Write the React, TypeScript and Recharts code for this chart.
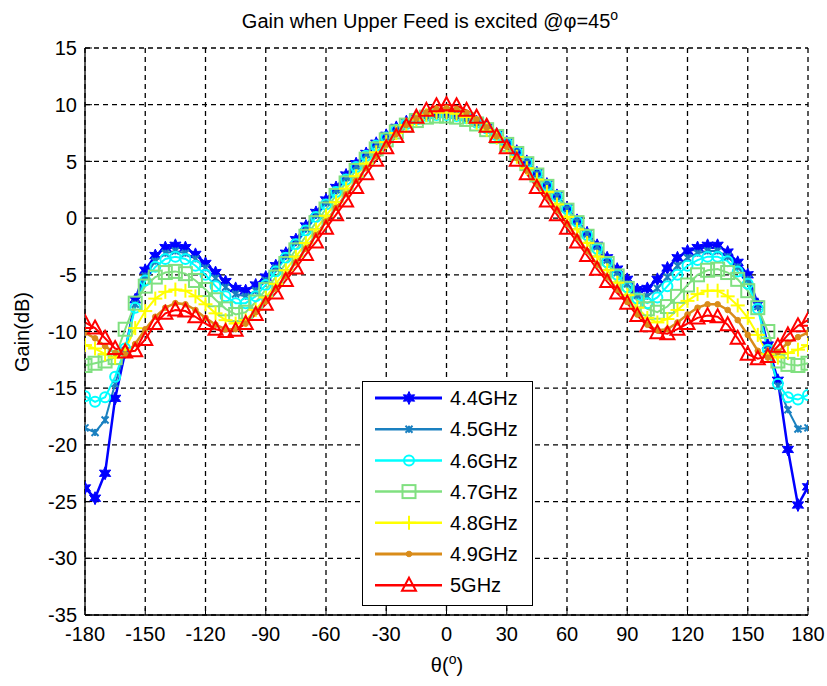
import React from 'react';
import { LineChart, Line, XAxis, YAxis, CartesianGrid, Legend } from 'recharts';

// Angles (deg)
const theta = [
  -180, -175, -170, -165, -160, -155, -150, -145, -140, -135, -130, -125, -120, -115, -110, -105, -100, -95,
  -90, -85, -80, -75, -70, -65, -60, -55, -50, -45, -40, -35, -30, -25, -20, -15, -10, -5,
  0, 5, 10, 15, 20, 25, 30, 35, 40, 45, 50, 55, 60, 65, 70, 75, 80, 85,
  90, 95, 100, 105, 110, 115, 120, 125, 130, 135, 140, 145, 150, 155, 160, 165, 170, 175, 180,
];

const gain44 = [
  -23.8, -24.7, -22.5, -15.9, -11.8, -7.2, -4.6, -3.3, -2.6, -2.4, -2.6, -3.2, -4.0, -4.8, -5.6, -6.2, -6.4, -5.9,
  -5.2, -4.2, -3.1, -1.9, -0.7, 0.5, 1.6, 2.7, 3.8, 4.8, 5.7, 6.6, 7.3, 8.0, 8.5, 8.9, 9.1, 9.2,
  9.2, 9.1, 8.9, 8.5, 8.0, 7.4, 6.7, 5.9, 5.0, 4.0, 3.0, 2.0, 0.9, -0.2, -1.3, -2.4, -3.5, -4.5,
  -5.4, -6.3, -6.2, -5.4, -4.4, -3.5, -2.9, -2.6, -2.4, -2.4, -3.0, -3.9, -5.0, -7.6, -11.2, -14.3, -20.4, -25.3, -23.7,
];

const gain45 = [
  -18.5, -18.9, -17.8, -14.6, -11.7, -7.6, -5.1, -3.8, -3.1, -2.9, -3.1, -3.6, -4.4, -5.3, -6.1, -6.7, -6.9, -6.4,
  -5.5, -4.4, -3.3, -2.1, -0.9, 0.3, 1.4, 2.5, 3.6, 4.6, 5.6, 6.5, 7.2, 7.9, 8.4, 8.8, 9.0, 9.1,
  9.1, 9.0, 8.8, 8.4, 7.9, 7.3, 6.6, 5.8, 4.9, 3.9, 2.9, 1.9, 0.8, -0.3, -1.4, -2.5, -3.7, -4.8,
  -5.8, -6.8, -6.9, -6.2, -5.2, -4.2, -3.5, -3.1, -2.9, -2.9, -3.4, -4.3, -5.4, -7.8, -11.5, -14.8, -16.9, -18.6, -18.5,
];

const gain46 = [
  -15.7, -16.2, -15.8, -14.0, -11.5, -7.9, -5.5, -4.3, -3.6, -3.4, -3.6, -4.2, -5.0, -6.0, -6.9, -7.5, -7.5, -6.9,
  -5.9, -4.7, -3.5, -2.3, -1.1, 0.1, 1.2, 2.3, 3.4, 4.5, 5.5, 6.4, 7.1, 7.8, 8.3, 8.7, 9.0, 9.1,
  9.1, 9.0, 8.8, 8.4, 7.9, 7.3, 6.6, 5.8, 4.9, 3.9, 2.9, 1.9, 0.8, -0.3, -1.5, -2.7, -3.9, -5.0,
  -6.1, -7.1, -7.5, -7.0, -6.0, -5.0, -4.2, -3.7, -3.4, -3.4, -3.8, -4.7, -5.8, -8.0, -11.6, -14.6, -15.8, -16.0, -15.6,
];

const gain47 = [
  -13.0, -12.8, -12.6, -12.3, -9.8, -7.5, -6.0, -5.2, -4.8, -4.7, -4.9, -5.5, -6.3, -7.2, -8.0, -8.5, -8.3, -7.4,
  -6.3, -5.2, -4.0, -2.8, -1.6, -0.4, 0.8, 2.0, 3.1, 4.2, 5.2, 6.1, 6.9, 7.6, 8.2, 8.6, 8.9, 9.0,
  9.0, 8.9, 8.7, 8.3, 7.8, 7.2, 6.5, 5.7, 4.8, 3.8, 2.8, 1.8, 0.7, -0.4, -1.6, -2.8, -4.0, -5.1,
  -6.2, -7.3, -8.0, -8.3, -7.8, -6.9, -5.9, -5.0, -4.6, -4.5, -4.8, -5.4, -6.4, -7.9, -10.0, -12.6, -12.9, -13.0, -12.8,
];

const gain48 = [
  -11.2, -11.5, -12.0, -12.3, -11.6, -9.7, -8.2, -7.1, -6.5, -6.3, -6.4, -6.9, -7.6, -8.4, -9.0, -9.3, -9.0, -8.1,
  -7.0, -5.8, -4.6, -3.4, -2.2, -1.0, 0.2, 1.4, 2.6, 3.7, 4.8, 5.8, 6.7, 7.5, 8.2, 8.7, 9.1, 9.3,
  9.3, 9.2, 8.9, 8.4, 7.8, 7.1, 6.3, 5.4, 4.4, 3.4, 2.3, 1.2, 0.1, -1.0, -2.2, -3.4, -4.6, -5.7,
  -6.8, -7.9, -8.8, -9.2, -8.9, -8.1, -7.3, -6.7, -6.4, -6.4, -6.9, -7.7, -8.8, -10.3, -12.0, -12.3, -11.9, -11.6, -11.2,
];

const gain49 = [
  -10.1, -10.6, -11.3, -11.9, -12.0, -11.1, -9.8, -8.7, -7.9, -7.5, -7.6, -8.1, -8.8, -9.4, -9.8, -9.8, -9.3, -8.3,
  -7.3, -6.2, -5.1, -3.9, -2.7, -1.5, -0.3, 0.9, 2.1, 3.3, 4.4, 5.5, 6.5, 7.4, 8.2, 8.8, 9.3, 9.6,
  9.7, 9.6, 9.3, 8.7, 8.0, 7.2, 6.3, 5.3, 4.2, 3.0, 1.9, 0.7, -0.5, -1.7, -2.9, -4.1, -5.2, -6.3,
  -7.4, -8.5, -9.4, -9.9, -9.8, -9.2, -8.5, -7.9, -7.6, -7.6, -8.1, -9.0, -10.3, -11.7, -12.3, -11.8, -11.0, -10.5, -10.1,
];

const gain50 = [
  -9.2, -9.7, -10.6, -11.5, -11.8, -11.7, -10.7, -9.3, -8.4, -8.1, -8.2, -8.7, -9.3, -9.8, -10.0, -9.9, -9.3, -8.5,
  -7.6, -6.6, -5.5, -4.4, -3.2, -2.1, -0.9, 0.3, 1.5, 2.7, 3.9, 5.1, 6.2, 7.2, 8.1, 8.9, 9.5, 9.9,
  10.0, 9.9, 9.5, 8.9, 8.1, 7.2, 6.2, 5.1, 3.9, 2.7, 1.5, 0.3, -0.9, -2.1, -3.3, -4.5, -5.6, -6.6,
  -7.5, -8.6, -9.5, -10.1, -10.2, -9.8, -9.3, -8.8, -8.6, -8.7, -9.4, -10.6, -12.0, -12.4, -12.2, -11.3, -10.3, -9.5, -9.0,
];

const xTicks = [-180, -150, -120, -90, -60, -30, 0, 30, 60, 90, 120, 150, 180];
const yTicks = [-35, -30, -25, -20, -15, -10, -5, 0, 5, 10, 15];

const seriesKeys = ['f44', 'f45', 'f46', 'f47', 'f48', 'f49', 'f50'];
const seriesNames = ['4.4GHz', '4.5GHz', '4.6GHz', '4.7GHz', '4.8GHz', '4.9GHz', '5GHz'];
const seriesColors = ['#0000ff', '#1a80c0', '#00ffff', '#80e080', '#ffff00', '#d98c1a', '#ff0000'];
const seriesMarkers = ['hexagram', 'asterisk', 'circle', 'square', 'plus', 'dot', 'triangle'];
const seriesWidths = [2.5, 2, 2, 2, 2, 2.5, 2];
const seriesValues = [gain44, gain45, gain46, gain47, gain48, gain49, gain50];

const data = theta.map((t, i) => {
  const row: Record<string, number> = { theta: t };
  seriesKeys.forEach((k, s) => {
    row[k] = seriesValues[s][i];
  });
  return row;
});

const FONT = '"Liberation Sans", Arial, Helvetica, sans-serif';

function renderMarker(kind: string, cx: number, cy: number, color: string, key?: string) {
  switch (kind) {
    case 'hexagram': {
      const pts: string[] = [];
      for (let k = 0; k < 12; k++) {
        const r = k % 2 === 0 ? 6.5 : 3.3;
        const a = -Math.PI / 2 + (k * Math.PI) / 6;
        pts.push(`${cx + r * Math.cos(a)},${cy + r * Math.sin(a)}`);
      }
      return <polygon key={key} points={pts.join(' ')} fill={color} stroke={color} strokeWidth={1} />;
    }
    case 'asterisk': {
      const s = 3.5;
      return (
        <g key={key} stroke={color} strokeWidth={2}>
          <line x1={cx - s} y1={cy - s} x2={cx + s} y2={cy + s} />
          <line x1={cx - s} y1={cy + s} x2={cx + s} y2={cy - s} />
          <line x1={cx} y1={cy - s} x2={cx} y2={cy + s} />
        </g>
      );
    }
    case 'circle':
      return <circle key={key} cx={cx} cy={cy} r={5} fill="none" stroke={color} strokeWidth={2} />;
    case 'square':
      return <rect key={key} x={cx - 6.5} y={cy - 6.5} width={13} height={13} fill="none" stroke={color} strokeWidth={2} />;
    case 'plus':
      return (
        <g key={key} stroke={color} strokeWidth={2}>
          <line x1={cx - 7} y1={cy} x2={cx + 7} y2={cy} />
          <line x1={cx} y1={cy - 7} x2={cx} y2={cy + 7} />
        </g>
      );
    case 'dot':
      return <circle key={key} cx={cx} cy={cy} r={2.8} fill={color} stroke={color} />;
    case 'triangle':
    default:
      return (
        <polygon
          key={key}
          points={`${cx},${cy - 7.5} ${cx + 7},${cy + 5.5} ${cx - 7},${cy + 5.5}`}
          fill="none"
          stroke={color}
          strokeWidth={2}
        />
      );
  }
}

const makeDot = (s: number) => (props: any) => {
  const { cx, cy, index } = props;
  const k = `${seriesKeys[s]}-${index}`;
  if (cx == null || cy == null) return <g key={k} />;
  return renderMarker(seriesMarkers[s], cx, cy, seriesColors[s], k);
};

const XTick = (props: any) => {
  const { x, y, payload } = props;
  return (
    <g>
      <line x1={x} x2={x} y1={y - 12} y2={y - 19} stroke="#000" strokeWidth={1} />
      <text x={x} y={y} dy="0.71em" textAnchor="middle" fontSize={20} fontFamily={FONT} fill="#000">
        {payload.value}
      </text>
    </g>
  );
};

const YTick = (props: any) => {
  const { x, y, payload } = props;
  return (
    <g>
      <line x1={x + 8} x2={x + 15} y1={y} y2={y} stroke="#000" strokeWidth={1} />
      <text x={x} y={y} dy="0.355em" textAnchor="end" fontSize={20} fontFamily={FONT} fill="#000">
        {payload.value}
      </text>
    </g>
  );
};

const LegendBox = (props: any) => {
  const payload = (props.payload || []) as any[];
  return (
    <svg width={172} height={226} style={{ display: 'block' }}>
      <rect x={0.5} y={0.5} width={170} height={224} fill="#fff" stroke="#000" strokeWidth={1} />
      {payload.map((item, i) => {
        const s = seriesKeys.indexOf(item.dataKey);
        const cy = 17 + i * 31.2;
        return (
          <g key={item.dataKey}>
            <line x1={13} x2={80} y1={cy} y2={cy} stroke={seriesColors[s]} strokeWidth={seriesWidths[s] + 0.5} />
            {renderMarker(seriesMarkers[s], 47, cy, seriesColors[s])}
            <text x={88} y={cy} dy="0.355em" fontSize={20} fontFamily={FONT} fill="#000">
              {seriesNames[s]}
            </text>
          </g>
        );
      })}
    </svg>
  );
};

export default function App() {
  return (
    <div style={{ position: 'absolute', left: 0, top: 0, width: 827, height: 686, background: '#fff' }}>
      <LineChart
        width={827}
        height={686}
        data={data}
        margin={{ top: 48, right: 19, left: 0, bottom: 0 }}
        style={{ background: '#fff' }}
      >
        <CartesianGrid stroke="#000" strokeDasharray="5 4" strokeWidth={1.3} />
        <XAxis
          dataKey="theta"
          type="number"
          domain={[-180, 180]}
          ticks={xTicks}
          interval={0}
          height={71}
          tickSize={0}
          tickMargin={12}
          tickLine={false}
          axisLine={{ stroke: '#000', strokeWidth: 1.3 }}
          tick={<XTick />}
          allowDataOverflow
        />
        <YAxis
          type="number"
          domain={[-35, 15]}
          ticks={yTicks}
          interval={0}
          width={85}
          tickSize={0}
          tickMargin={8}
          tickLine={false}
          axisLine={{ stroke: '#000', strokeWidth: 1.3 }}
          tick={<YTick />}
          allowDataOverflow
        />
        {seriesKeys.map((k, s) => (
          <Line
            key={k}
            type="linear"
            dataKey={k}
            name={seriesNames[s]}
            stroke={seriesColors[s]}
            strokeWidth={seriesWidths[s]}
            dot={makeDot(s)}
            activeDot={false}
            isAnimationActive={false}
          />
        ))}
        <Legend
          layout="vertical"
          align="center"
          verticalAlign="middle"
          content={<LegendBox />}
          wrapperStyle={{ position: 'absolute', left: 362, top: 381, width: 172, height: 226 }}
        />
        <text x={430} y={28} textAnchor="middle" fontSize={20} fontFamily={FONT} fill="#000">
          Gain when Upper Feed is excited @φ=45
          <tspan dy={-8} fontSize={14}>o</tspan>
        </text>
        <text
          x={22}
          y={332}
          transform="rotate(-90 22 332)"
          textAnchor="middle"
          dy="0.355em"
          fontSize={20}
          fontFamily={FONT}
          fill="#000"
        >
          Gain(dB)
        </text>
        <text x={447} y={672} textAnchor="middle" fontSize={20} fontFamily={FONT} fill="#000">
          θ(
          <tspan dy={-8} fontSize={14}>o</tspan>
          <tspan dy={8}>)</tspan>
        </text>
      </LineChart>
    </div>
  );
}
